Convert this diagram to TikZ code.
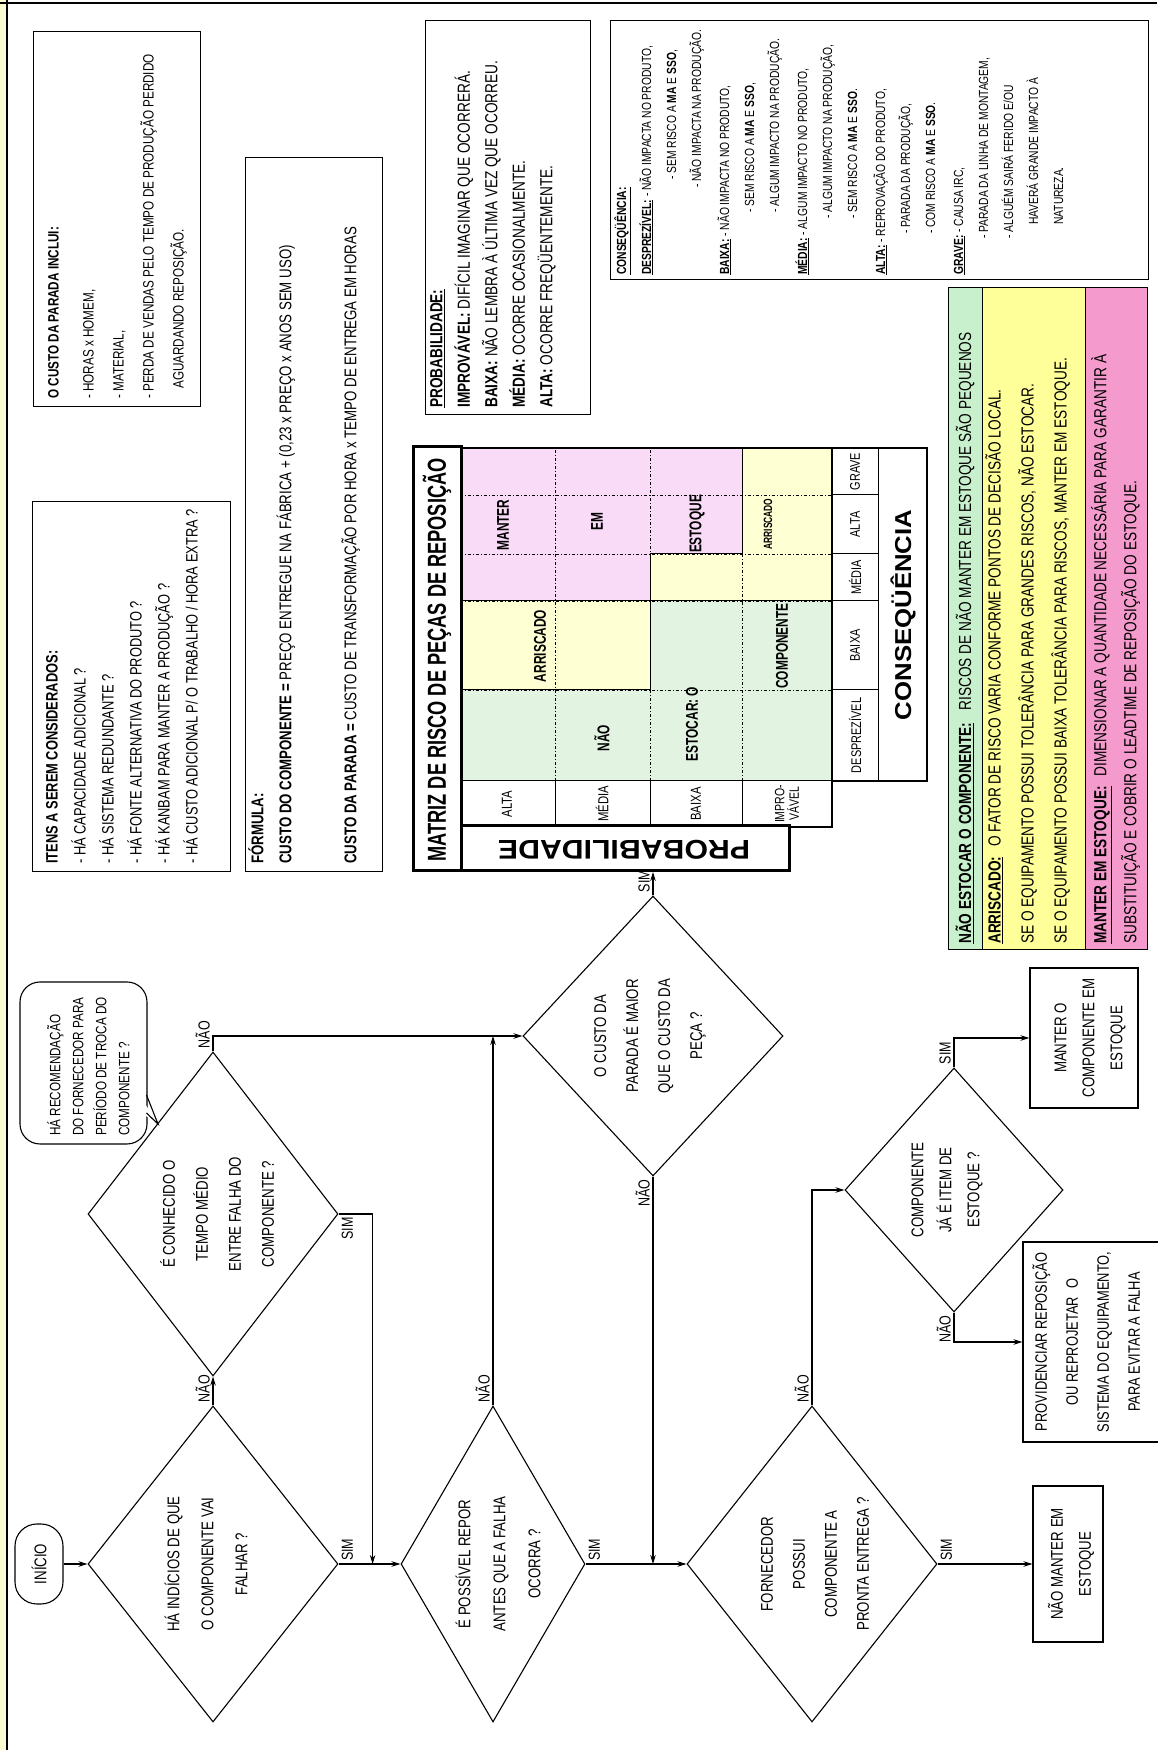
\documentclass[tikz,border=0pt]{standalone}
\usepackage{fontspec}
\setmainfont{Liberation Sans}[FakeStretch=0.78]
\newfontfamily\narrowfam{Liberation Sans}[FakeStretch=0.70]
\newfontfamily\widefam{Liberation Sans}[FakeStretch=1.12]
\usetikzlibrary{shapes.geometric,arrows.meta,calc}
\definecolor{cellgreen}{HTML}{E2F3E2}
\definecolor{cellyellow}{HTML}{FFFFD4}
\definecolor{cellpink}{HTML}{F9DAF7}
\definecolor{leggreen}{HTML}{C8F0CC}
\definecolor{legyellow}{HTML}{FFFF99}
\definecolor{legpink}{HTML}{F59ACC}
\definecolor{edgeyellow}{HTML}{FBFBD2}
\newcommand{\fsz}[2]{\fontsize{#1}{#2}\selectfont}
\tikzset{
  ln/.style={line width=1.1pt},
  arr/.style={ln, -{Stealth[length=9pt,width=5.5pt]}},
  dia/.style={diamond, draw, ln, inner sep=0pt},
  term/.style={rectangle, draw, ln, rounded corners=22pt, minimum width=80pt, minimum height=48pt, font=\fsz{17}{20}},
  flowtxt/.style={align=center, inner sep=0pt, font=\fsz{17}{33}},
  actbox/.style={rectangle, draw, ln, fill=white, inner sep=0pt},
  yesno/.style={inner sep=3pt, font=\fsz{16}{18}},
  infobox/.style={rectangle, draw, line width=1.4pt, fill=white, inner sep=0pt, anchor=north west},
  infotxt/.style={align=left, inner sep=0pt, anchor=north west},
  legrow/.style={rectangle, draw, line width=1pt, inner sep=0pt, anchor=north west, minimum width=662pt},
  mxthick/.style={line width=2.6pt},
  mxthin/.style={line width=1pt},
  mxdot/.style={line width=0.8pt, dash pattern=on 3pt off 2pt on 1pt off 2pt},
  celltxt/.style={font=\narrowfam\bfseries\fsz{17}{19}, inner sep=0pt},
  axistxt/.style={font=\fsz{14.5}{15}, inner sep=0pt, align=center},
}
\begin{document}
\begin{tikzpicture}[x=1pt,y=1pt]
\useasboundingbox (0,0) rectangle (1157,1750);
% page edge
\fill[edgeyellow] (0,0) rectangle (6,1750);
\draw[line width=1.6pt] (7,0) -- (7,1750);
\draw[line width=1.4pt] (0,1747) -- (1157,1747);

\begin{scope}[rotate=90, transform shape, x=1pt, y=-1pt]

% ---------------- flowchart ----------------
% callout drawn first so the diamond edge passes over it
\node[rectangle, draw, ln, rounded corners=20pt, minimum width=162pt, minimum height=127pt, fill=white] (note) at (687,83.5) {};
\fill[white] (638,140) -- (626,158) -- (654,140) -- cycle;
\draw[ln] (637,146.5) -- (626,158) -- (655,146.5);
\node[infotxt, font=\fsz{15}{23}] (notet) at (614,47) {HÁ RECOMENDAÇÃO\\DO FORNECEDOR PARA\\PERÍODO DE TROCA DO\\COMPONENTE ?};

\node[term] (start) at (186,39) {INÍCIO};

\node[dia, minimum width=316pt, minimum height=250pt] (d1) at (186,213) {};
\node[flowtxt, font=\fsz{17}{34}] (d1t) at (186,206) {HÁ INDÍCIOS DE QUE\\O COMPONENTE VAI\\FALHAR ?};

\node[dia, minimum width=324pt, minimum height=250pt] (d2) at (536,213) {};
\node[flowtxt] (d2t) at (536,217) {É CONHECIDO O\\TEMPO MÉDIO\\ENTRE FALHA DO\\COMPONENTE ?};

\node[dia, minimum width=316pt, minimum height=184pt] (d3) at (186,493) {};
\node[flowtxt, font=\fsz{17}{35}] (d3t) at (186,498) {É POSSÍVEL REPOR\\ANTES QUE A FALHA\\OCORRA ?};

\node[dia, minimum width=280pt, minimum height=260pt] (d5) at (714,653) {};
\node[flowtxt, font=\fsz{17}{32}] (d5t) at (714,650) {O CUSTO DA\\PARADA É MAIOR\\QUE O CUSTO DA\\PEÇA ?};

\node[dia, minimum width=316pt, minimum height=250pt] (d4) at (186,812) {};
\node[flowtxt, font=\fsz{17}{32}] (d4t) at (186,815) {FORNECEDOR\\POSSUI\\COMPONENTE A\\PRONTA ENTREGA ?};

\node[dia, minimum width=244pt, minimum height=218pt] (d6) at (560,954) {};
\node[flowtxt, font=\fsz{17}{28}] (d6t) at (560,947) {COMPONENTE\\JÁ É ITEM DE\\ESTOQUE ?};

\node[actbox, minimum width=156pt, minimum height=70pt] (nomanter) at (186,1068) {};
\node[flowtxt, font=\fsz{17}{28}] (nomantert) at (186,1071) {NÃO MANTER EM\\ESTOQUE};

\node[actbox, minimum width=200pt, minimum height=150pt] (prov) at (408,1098) {};
\node[flowtxt, font=\fsz{16.5}{31}] (provt) at (408,1086) {PROVIDENCIAR REPOSIÇÃO\\OU REPROJETAR\enspace O\\SISTEMA DO EQUIPAMENTO,\\PARA EVITAR A FALHA};

\node[actbox, minimum width=140pt, minimum height=108pt] (manter) at (712,1084) {};
\node[flowtxt, font=\fsz{17}{28}] (mantert) at (712,1090) {MANTER O\\COMPONENTE EM\\ESTOQUE};

% ---------------- info boxes ----------------
\node[infobox, minimum width=370pt, minimum height=198pt] (itens) at (878,32) {};
\node[infotxt, font=\fsz{16.5}{28}] (itenst) at (886,46) {\textbf{ITENS A SEREM CONSIDERADOS:}\\- HÁ CAPACIDADE ADICIONAL ?\\- HÁ SISTEMA REDUNDANTE ?\\- HÁ FONTE ALTERNATIVA DO PRODUTO ?\\- HÁ KANBAM PARA MANTER A PRODUÇÃO ?\\- HÁ CUSTO ADICIONAL P/ O TRABALHO / HORA EXTRA ?};

\node[infobox, minimum width=375pt, minimum height=167pt] (custo) at (1343,33) {};
\node[infotxt, font=\fsz{15}{30}] (custot) at (1351,48) {\textbf{O CUSTO DA PARADA INCLUI:}\\[5pt]- HORAS x HOMEM,\\- MATERIAL,\\- PERDA DE VENDAS PELO TEMPO DE PRODUÇÃO PERDIDO\\\hspace*{10pt}AGUARDANDO REPOSIÇÃO.};

\node[infobox, minimum width=714pt, minimum height=137pt] (formula) at (878,245) {};
\node[infotxt, font=\fsz{17}{28}] (formulat) at (886,248) {\textbf{FÓRMULA:}\\\textbf{CUSTO DO COMPONENTE =} PREÇO ENTREGUE NA FÁBRICA + (0,23 x PREÇO x ANOS SEM USO)\\[37pt]\textbf{CUSTO DA PARADA =} CUSTO DE TRANSFORMAÇÃO POR HORA x TEMPO DE ENTREGA EM HORAS};

\node[infobox, minimum width=394pt, minimum height=165pt] (probdef) at (1335,425) {};
\node[infotxt, font=\fsz{17.5}{27.5}] (probdeft) at (1342,430) {\underline{\textbf{PROBABILIDADE:}}\\\textbf{IMPROVÁVEL:} DIFÍCIL IMAGINAR QUE OCORRERÁ.\\\textbf{BAIXA:} NÃO LEMBRA À ÚLTIMA VEZ QUE OCORREU.\\\textbf{MÉDIA:} OCORRE OCASIONALMENTE.\\\textbf{ALTA:} OCORRE FREQÜENTEMENTE.};

\node[infobox, minimum width=259pt, minimum height=538pt] (conseq) at (1470,610) {};
\node[infotxt, font=\fsz{13.2}{25}] (conseqt) at (1475,614) {\underline{\textbf{CONSEQÜÊNCIA:}}\\
\underline{\textbf{DESPREZÍVEL:}} - NÃO IMPACTA NO PRODUTO,\\
\hspace*{95pt}- SEM RISCO A \textbf{MA} E \textbf{SSO},\\
\hspace*{87pt}- NÃO IMPACTA NA PRODUÇÃO.\\[3pt]
\underline{\textbf{BAIXA:}} - NÃO IMPACTA NO PRODUTO,\\
\hspace*{62pt}- SEM RISCO A \textbf{MA} E \textbf{SSO},\\
\hspace*{62pt}- ALGUM IMPACTO NA PRODUÇÃO.\\[3pt]
\underline{\textbf{MÉDIA:}} - ALGUM IMPACTO NO PRODUTO,\\
\hspace*{56pt}- ALGUM IMPACTO NA PRODUÇÃO,\\
\hspace*{56pt}- SEM RISCO A \textbf{MA} E \textbf{SSO}.\\[3pt]
\underline{\textbf{ALTA:}} - REPROVAÇÃO DO PRODUTO,\\
\hspace*{41pt}- PARADA DA PRODUÇÃO,\\
\hspace*{41pt}- COM RISCO A \textbf{MA} E \textbf{SSO}.\\[3pt]
\underline{\textbf{GRAVE:}} - CAUSA IRC,\\
\hspace*{36pt}- PARADA DA LINHA DE MONTAGEM,\\
\hspace*{36pt}- ALGUÉM SAIRÁ FERIDO E/OU\\
\hspace*{50pt}HAVERÁ GRANDE IMPACTO À\\
\hspace*{50pt}NATUREZA.};

% legend
\node[legrow, fill=leggreen, minimum height=34pt] (lg1) at (800,948) {};
\node[legrow, fill=legyellow, minimum height=103pt] (lg2) at (800,982) {};
\node[legrow, fill=legpink, minimum height=62pt] (lg3) at (800,1085) {};
\node[infotxt, anchor=west, font=\fsz{17.5}{20}] (lg1t) at (806,965) {\underline{\textbf{NÃO ESTOCAR O COMPONENTE:}}\hspace{12pt}RISCOS DE NÃO MANTER EM ESTOQUE SÃO PEQUENOS};
\node[infotxt, font=\fsz{17.5}{33}] (lg2t) at (806,985) {\underline{\textbf{ARRISCADO:}}\hspace{10pt}O FATOR DE RISCO VARIA CONFORME PONTOS DE DECISÃO LOCAL.\\SE O EQUIPAMENTO POSSUI TOLERÂNCIA PARA GRANDES RISCOS, NÃO ESTOCAR.\\SE O EQUIPAMENTO POSSUI BAIXA TOLERÂNCIA PARA RISCOS, MANTER EM ESTOQUE.};
\node[infotxt, font=\fsz{17.5}{30}] (lg3t) at (806,1091) {\underline{\textbf{MANTER EM ESTOQUE:}}\hspace{10pt}DIMENSIONAR A QUANTIDADE NECESSÁRIA PARA GARANTIR À\\SUBSTITUIÇÃO E COBRIR O LEADTIME DE REPOSIÇÃO DO ESTOQUE.};

% ---------------- risk matrix ----------------
\fill[cellgreen] (969,460) rectangle (1060,650);
\fill[cellgreen] (969,650) rectangle (1149,832);
\fill[cellyellow] (1060,460) rectangle (1149,650);
\fill[cellyellow] (1149,650) rectangle (1196,742);
\fill[cellyellow] (1149,742) rectangle (1302,832);
\fill[cellpink] (1149,460) rectangle (1302,650);
\fill[cellpink] (1196,650) rectangle (1302,742);
\foreach \c in {1060,1149,1196,1255} \draw[mxdot] (\c,460) -- (\c,832);
\foreach \r in {555,650,742} \draw[mxdot] (969,\r) -- (1302,\r);
\draw[mxthin] (1060,460) -- (1060,650) -- (1149,650) -- (1149,832);
\draw[mxthin] (1149,460) -- (1149,650) -- (1196,650) -- (1196,742) -- (1302,742);
% probability labels
\foreach \r in {555,650,742} \draw[mxthin] (923,\r) -- (969,\r);
\draw[mxthin] (969,460) -- (969,832);
% consequence labels
\foreach \c in {1060,1149,1196,1255} \draw[mxthin] (\c,832) -- (\c,878);
\draw[mxthin] (969,878) -- (1302,878);
% frame
\node[draw, mxthick, minimum width=424pt, minimum height=48pt, anchor=north west, inner sep=0pt] (mxtitle) at (878,412) {};
\node[draw, mxthick, minimum width=45pt, minimum height=328pt, anchor=north west, inner sep=0pt] (probbox) at (878,460) {};
\draw[mxthick] (923,788) -- (923,832) -- (969,832) -- (1302,832);
\draw[mxthick] (1302,460) -- (1302,927) -- (969,927) -- (969,832);

\node[font=\narrowfam\bfseries\fsz{26}{28}, inner sep=0pt] (mxtitlet) at (1090,437) {MATRIZ DE RISCO DE PEÇAS DE REPOSIÇÃO};
\node[font=\widefam\bfseries\fsz{27}{28}, rotate=90, inner sep=0pt] (probword) at (900.5,624) {PROBABILIDADE};

\node[axistxt] (pa) at (946,507) {ALTA};
\node[axistxt] (pm) at (946,602) {MÉDIA};
\node[axistxt] (pb) at (946,696) {BAIXA};
\node[axistxt, font=\fsz{13.5}{14.5}] (pi) at (946,787) {IMPRO-\\VÁVEL};

\node[axistxt, font=\fsz{14}{15}] (cd) at (1014.5,855) {DESPREZÍVEL};
\node[axistxt, font=\fsz{14}{15}] (cb) at (1104.5,855) {BAIXA};
\node[axistxt, font=\fsz{14}{15}] (cm) at (1172.5,855) {MÉDIA};
\node[axistxt, font=\fsz{14}{15}] (ca) at (1225.5,855) {ALTA};
\node[axistxt, font=\fsz{14}{15}] (cg) at (1278.5,855) {GRAVE};
\node[font=\widefam\bfseries\fsz{23}{25}, inner sep=0pt] (cword) at (1135,903) {CONSEQÜÊNCIA};

\node[celltxt] (c1) at (1012,602) {NÃO};
\node[celltxt] (c2) at (1026,692) {ESTOCAR: O};
\node[celltxt] (c3) at (1104,782) {COMPONENTE};
\node[celltxt] (c4) at (1104,540) {ARRISCADO};
\node[celltxt] (c5) at (1225,503) {MANTER};
\node[celltxt] (c6) at (1228,597) {EM};
\node[celltxt] (c7) at (1226,697) {ESTOQUE};
\node[celltxt, font=\narrowfam\bfseries\fsz{12}{13}] (c8) at (1226,768) {ARRISCADO};

% ---------------- connectors ----------------
\draw[arr] (start.south) -- (d1.north);
\draw[arr] (d1.east) -- (d2.west);
\node[yesno, anchor=south west] (l1) at (d1.east) {NÃO};
\draw[arr] (d1.south) -- (d3.north);
\node[yesno, anchor=north west] (l2) at (d1.south) {SIM};
\coordinate (join1) at ($(d1.south)!0.55!(d3.north)$);
\draw[arr] (d2.south) |- (join1);
\node[yesno, anchor=north east] (l3) at (d2.south) {SIM};
\draw[arr] (d2.east) -| (d5.north);
\node[yesno, anchor=south west] (l4) at (d2.east) {NÃO};
\draw[arr] (d3.east) -- (d3.east -| d5.north);
\node[yesno, anchor=south west] (l5) at (d3.east) {NÃO};
\draw[arr] (d3.south) -- (d4.north);
\node[yesno, anchor=north west] (l6) at (d3.south) {SIM};
\draw[arr] (d5.west) -- (d5.west -| d3.south);
\node[yesno, anchor=south east] (l7) at (d5.west) {NÃO};
\draw[arr] (d5.east) -- (d5.east -| probbox.west);
\node[yesno, anchor=south west] (l8) at (d5.east) {SIM};
\draw[arr] (d4.east) -| (d6.north);
\node[yesno, anchor=south west] (l9) at (d4.east) {NÃO};
\draw[arr] (d4.south) -- (nomanter.north);
\node[yesno, anchor=north west] (l10) at (d4.south) {SIM};
\draw[arr] (d6.west) -| (prov.north);
\node[yesno, anchor=south east] (l11) at (d6.west) {NÃO};
\draw[arr] (d6.east) -| (manter.north);
\node[yesno, anchor=south west] (l12) at (d6.east) {SIM};

\end{scope}
\end{tikzpicture}
\end{document}
